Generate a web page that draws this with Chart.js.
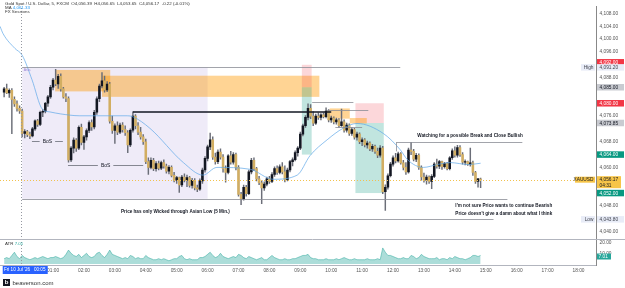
<!DOCTYPE html>
<html><head><meta charset="utf-8">
<script src="https://cdn.jsdelivr.net/npm/chart.js@4.4.0/dist/chart.umd.min.js"></script>
<style>html,body{margin:0;padding:0;background:#fff}#wrap{width:625px;height:288px}</style>
</head><body><div id="wrap"><canvas id="c" width="625" height="288"></canvas></div>
<script>
// ---- candle data (5-minute bars, minutes from 00:00) ----
const times = [-35,-30,-25,-20,-15,-10,-5,
0,5,10,15,20,25,30,35,40,45,50,55,
60,65,70,75,80,85,90,95,100,105,110,115,
120,125,130,135,140,145,150,155,160,165,170,175,
180,185,190,195,200,205,210,215,220,225,230,235,
240,245,250,255,260,265,270,275,280,285,290,295,
300,305,310,315,320,325,330,335,340,345,350,355,
360,365,370,375,380,385,390,395,400,405,410,415,
420,425,430,435,440,445,450,455,460,465,470,475,
480,485,490,495,500,505,510,515,520,525,530,535,
540,545,550,555,560,565,570,575,580,585,590,595,
600,605,610,615,620,625,630,635,640,645,650,655,
660,665,670,675,680,685,690,695,700,705,710,715,
720,725,730,735,740,745,750,755,760,765,770,775,
780,785,790,795,800,805,810,815,820,825,830,835,
840,845,850,855,860,865,870,875,880,885,890];
const opens = [4083.5,4084.5,4083.2,4084.0,4081.2,4079.8,4078.4,
4077.6,4070.6,4071.2,4070.2,4069.8,4072.0,4074.5,4073.4,4077.2,4077.5,4080.0,4082.0,
4085.0,4087.2,4086.0,4088.4,4084.5,4082.0,4081.5,4062.3,4066.0,4068.5,4066.0,4072.5,
4067.8,4069.5,4071.5,4074.0,4072.6,4077.2,4081.4,4085.4,4087.0,4084.2,4086.0,4074.4,
4071.5,4073.0,4071.0,4073.2,4071.8,4070.8,4067.0,4071.6,4076.0,4073.0,4071.0,4069.5,
4068.0,4061.8,4060.0,4062.2,4059.6,4061.2,4059.8,4061.5,4060.4,4058.8,4060.0,4057.5,
4056.0,4056.8,4054.5,4057.0,4056.0,4056.8,4054.4,4056.0,4053.6,4053.2,4055.8,4059.2,
4062.8,4066.4,4068.6,4063.2,4061.8,4064.8,4063.2,4059.6,4058.4,4063.6,4061.6,4064.0,
4060.0,4051.6,4050.2,4053.8,4051.8,4058.6,4062.2,4059.6,4056.4,4055.2,4053.6,4054.8,
4056.4,4055.6,4057.8,4059.6,4058.4,4060.2,4058.6,4056.2,4059.2,4061.8,4062.4,4064.6,
4066.0,4070.4,4073.0,4075.6,4078.4,4076.0,4073.8,4076.0,4075.6,4076.4,4075.8,4077.6,
4074.8,4075.4,4074.2,4074.8,4073.0,4074.2,4071.6,4073.2,4070.6,4071.8,4069.4,4070.4,
4068.0,4068.6,4067.0,4067.6,4065.8,4066.6,4065.0,4063.8,4066.0,4052.4,4053.8,4057.4,
4061.0,4063.0,4062.0,4064.2,4061.4,4060.0,4058.6,4065.4,4065.0,4062.6,4063.8,4060.0,
4057.0,4056.0,4057.0,4055.6,4057.2,4061.0,4060.4,4061.8,4060.2,4061.2,4059.6,4063.0,
4065.2,4063.8,4066.2,4064.0,4061.6,4061.8,4061.0,4061.4,4058.4,4055.6,4056.39];
const highs = [4085.0,4086.0,4084.5,4084.6,4082.0,4080.8,4079.2,
4078.2,4071.8,4071.6,4071.0,4072.5,4074.8,4075.0,4077.6,4078.0,4080.3,4082.5,4085.6,
4087.8,4090.6,4089.0,4089.2,4085.0,4083.0,4082.0,4066.5,4069.2,4069.0,4073.0,4073.5,
4070.0,4072.0,4074.5,4074.8,4077.8,4082.0,4086.0,4089.6,4088.5,4086.8,4086.5,4076.0,
4073.6,4074.2,4073.8,4074.0,4073.0,4071.5,4072.0,4077.3,4076.5,4074.0,4072.5,4070.2,
4068.8,4063.0,4063.0,4062.8,4061.8,4062.0,4062.0,4062.4,4061.0,4060.6,4060.5,4058.5,
4057.2,4057.0,4057.5,4058.0,4057.6,4057.2,4056.6,4056.5,4054.5,4056.4,4059.8,4063.4,
4067.0,4070.7,4069.5,4064.5,4065.5,4065.8,4064.0,4060.5,4064.0,4065.0,4064.6,4064.5,
4060.6,4052.2,4054.5,4054.4,4059.2,4062.8,4063.0,4060.0,4057.2,4056.0,4055.5,4057.0,
4057.2,4058.4,4060.2,4060.5,4060.8,4061.5,4060.5,4059.8,4062.2,4063.0,4065.2,4066.5,
4071.0,4073.5,4076.2,4079.8,4079.6,4077.4,4076.6,4077.0,4076.8,4077.0,4078.6,4078.0,
4076.0,4075.8,4075.4,4075.2,4078.2,4074.8,4073.8,4073.6,4072.4,4072.2,4071.0,4070.8,
4069.2,4069.0,4068.2,4068.0,4067.2,4067.0,4066.0,4066.8,4066.6,4054.6,4058.0,4061.6,
4063.6,4064.4,4064.8,4064.6,4062.2,4061.5,4066.0,4067.8,4065.6,4064.4,4064.2,4060.5,
4058.2,4057.6,4057.4,4057.8,4061.5,4062.6,4062.2,4062.0,4061.6,4061.6,4063.4,4065.8,
4066.4,4066.9,4066.8,4064.6,4062.4,4062.0,4066.0,4062.0,4058.8,4056.6,4056.65];
const lows = [4082.0,4083.0,4081.8,4070.5,4079.0,4077.5,4076.8,
4069.5,4069.2,4069.6,4069.0,4069.5,4071.5,4072.8,4073.0,4075.8,4077.0,4079.0,4081.5,
4084.2,4085.5,4084.6,4083.8,4081.6,4080.5,4061.6,4061.8,4064.5,4065.0,4065.5,4067.0,
4065.6,4068.5,4070.8,4071.5,4072.0,4076.5,4080.5,4084.8,4083.5,4083.6,4073.8,4070.6,
4067.5,4070.2,4070.5,4071.0,4070.0,4064.6,4066.5,4071.0,4072.0,4070.2,4068.8,4067.2,
4061.2,4057.8,4059.5,4059.0,4058.8,4059.2,4059.3,4059.8,4058.2,4058.0,4057.0,4055.5,
4055.0,4052.2,4054.0,4055.5,4054.0,4053.8,4053.5,4053.0,4052.4,4052.8,4055.0,4058.5,
4062.0,4065.5,4062.5,4061.0,4061.2,4062.6,4058.5,4055.4,4058.0,4061.0,4061.0,4059.2,
4051.0,4048.4,4049.8,4051.0,4051.5,4058.0,4059.0,4055.8,4054.6,4048.7,4052.8,4054.2,
4055.0,4055.2,4057.2,4057.8,4058.0,4058.0,4055.5,4055.8,4058.6,4060.5,4062.0,4063.5,
4065.5,4069.8,4072.5,4074.8,4075.2,4073.0,4073.4,4075.0,4074.8,4075.4,4075.4,4074.2,
4074.0,4073.6,4073.5,4072.5,4072.8,4071.0,4071.0,4070.0,4070.0,4068.8,4068.5,4067.4,
4066.8,4066.4,4066.0,4065.2,4065.0,4064.4,4063.0,4063.2,4051.8,4046.6,4053.2,4057.0,
4060.4,4061.4,4061.6,4061.0,4059.2,4057.8,4058.2,4064.0,4062.0,4061.8,4059.4,4056.0,
4055.4,4054.8,4055.0,4053.4,4056.8,4059.8,4059.6,4059.4,4059.8,4059.2,4059.2,4062.5,
4063.2,4063.2,4063.4,4061.0,4060.8,4060.6,4060.4,4057.5,4055.0,4053.8,4053.65];
const closes = [4084.5,4083.2,4084.0,4081.2,4079.8,4078.4,4077.6,
4070.6,4071.2,4070.2,4069.8,4072.0,4074.5,4073.4,4077.2,4077.5,4080.0,4082.0,4085.0,
4087.2,4086.0,4088.4,4084.5,4082.0,4081.5,4062.3,4066.0,4068.5,4066.0,4072.5,4067.8,
4069.5,4071.5,4074.0,4072.6,4077.2,4081.4,4085.4,4087.0,4084.2,4086.0,4074.4,4071.5,
4073.0,4071.0,4073.2,4071.8,4070.8,4067.0,4071.6,4076.0,4073.0,4071.0,4069.5,4068.0,
4061.8,4060.0,4062.2,4059.6,4061.2,4059.8,4061.5,4060.4,4058.8,4060.0,4057.5,4056.0,
4056.8,4054.5,4057.0,4056.0,4056.8,4054.4,4056.0,4053.6,4053.2,4055.8,4059.2,4062.8,
4066.4,4068.6,4063.2,4061.8,4064.8,4063.2,4059.6,4058.4,4063.6,4061.6,4064.0,4060.0,
4051.6,4050.2,4053.8,4051.8,4058.6,4062.2,4059.6,4056.4,4055.2,4053.6,4054.8,4056.4,
4055.6,4057.8,4059.6,4058.4,4060.2,4058.6,4056.2,4059.2,4061.8,4062.4,4064.6,4066.0,
4070.4,4073.0,4075.6,4078.4,4076.0,4073.8,4076.0,4075.6,4076.4,4075.8,4077.6,4074.8,
4075.4,4074.2,4074.8,4073.0,4074.2,4071.6,4073.2,4070.6,4071.8,4069.4,4070.4,4068.0,
4068.6,4067.0,4067.6,4065.8,4066.6,4065.0,4063.8,4066.0,4052.4,4053.8,4057.4,4061.0,
4063.0,4062.0,4064.2,4061.4,4060.0,4058.6,4065.4,4065.0,4062.6,4063.8,4060.0,4057.0,
4056.0,4057.0,4055.6,4057.2,4061.0,4060.4,4061.8,4060.2,4061.2,4059.6,4063.0,4065.2,
4063.8,4066.2,4064.0,4061.6,4061.8,4061.0,4061.4,4058.4,4055.6,4056.4,4056.17];
// ATR read per bar
const atrVals = [5,6,5,8,11,7,5,
8,6,5,4,5,6,5,6,7,6,5,6,
6,7,6,5,6,9,13,10,8,7,9,6,
8,10,7,6,7,10,11,8,6,9,13,9,
8,7,6,5,6,5,8,7,5,6,5,5,
8,6,5,4,4,5,4,5,4,3,4,5,
5,7,8,5,4,5,4,4,4,6,6,7,
9,11,8,6,7,10,7,6,5,6,7,6,
9,8,6,5,7,6,5,4,5,6,4,4,
6,8,6,5,4,4,5,4,4,5,5,6,
7,8,8,9,6,5,5,4,4,4,5,4,
4,4,5,4,5,6,5,4,4,5,4,4,
4,4,5,4,4,4,5,4,15,11,8,8,
7,6,5,5,6,5,5,8,7,5,6,9,
7,6,5,5,5,6,4,5,5,4,6,5,
7,6,5,5,4,5,6,8,8,7,8];
// Moving average, read at points
const maTimes = [-43,-37,-14,0,19,39,54,74,112,171,204,215,248,313,351,378,443,487,534,559,592,623,650,701,734,748,779,806,831,866,890];
const maVals  = [4104.0,4101.7,4097.1,4095.0,4087.4,4078.2,4077.3,4076.7,4076.1,4076.1,4076.1,4075.8,4072.2,4061.5,4057.6,4060.0,4059.4,4056.3,4057.6,4063.7,4068.6,4072.2,4073.7,4070.6,4065.5,4062.4,4060.0,4060.9,4061.5,4060.9,4061.3];
// axes
const priceTicks = [4040,4048,4060,4068,4076,4088,4096,4100,4104,4108];
const atrTicks = [10,20];
const hourTicks = [60,120,180,240,300,360,420,480,540,600,660,720,780,840,900,960,1020,1080];
const hourLabels = ['01:00','02:00','03:00','04:00','05:00','06:00','07:00','08:00','09:00','10:00','11:00','12:00','13:00','14:00','15:00','16:00','17:00','18:00'];
// drawings: zones (time from, time to, price top, price bottom, kind)
const zoneT0 = [0,64,155,543,543,647,647,597,636];
const zoneT1 = [360,171,577,562,562,702,702,636,669];
const zoneHi = [4091.2,4090.4,4088.6,4092.0,4085.0,4080.0,4073.85,4078.4,4075.4];
const zoneLo = [4050.2,4083.7,4082.0,4085.0,4064.0,4073.85,4052.0,4075.2,4073.7];
const zoneKind = ['asia','ob','ob','stop','target','stop','target','ob','ob'];
// horizontal lines (time from, time to, price, kind)
const lineT0 = [0,0,423,215,563,726,592,608];
const lineT1 = [734,942,915,600,643,971,672,660];
const lineP  = [4091.2,4050.2,4043.8,4077.3,4080.4,4067.8,4078.0,4072.6];
const lineKind = ['thin','thin','thin','thick','thin','thin','thin','thin'];
// BoS labels
const bosT0 = [19,89], bosT1 = [79,235], bosP = [4068.2,4060.6];
// notes (left time, price, text)
const noteT = [192,767,841,841];
const noteP = [4046.3,4070.0,4048.1,4045.7];
const noteText = ['Price has only Wicked through Asian Low (5 Min.)','Watching for a possible Break and Close Bullish',"I'm not sure Price wants to continue Bearish","Price doesn't give a damn about what I think"];
// price-axis markers
const markP = [4092.0,4085.0,4080.0,4073.85,4064.0,4052.0];
const markText = ['4,092.00','4,085.00','4,080.00','4,073.85','4,064.00','4,052.00'];
const markKind = ['red','gray','red','gray','green','green'];
const lastPrice = 4056.17, sessHigh = 4091.20, sessLow = 4043.80, maLast = 4061.33, atrLast = 7.01;

const FONT = '"Liberation Sans", Arial, sans-serif';
const ZONE_STYLE = {asia:'rgba(126,87,194,0.12)', ob:'rgba(255,152,0,0.42)', stop:'rgba(242,54,69,0.2)', target:'rgba(8,153,129,0.25)'};
const fmt = v => v.toLocaleString('en-US',{minimumFractionDigits:2,maximumFractionDigits:2});

const tv = {
  id:'tv',
  beforeDatasetsDraw(chart){
    const {ctx, chartArea:a, scales:{x,y}} = chart;
    ctx.save();
    ctx.beginPath(); ctx.rect(a.left, y.top, a.right-a.left, y.bottom-y.top); ctx.clip();
    for (let i=0;i<zoneKind.length;i++){
      const x0=x.getPixelForValue(zoneT0[i]), x1=x.getPixelForValue(zoneT1[i]);
      const y0=y.getPixelForValue(zoneHi[i]), y1=y.getPixelForValue(zoneLo[i]);
      ctx.fillStyle = ZONE_STYLE[zoneKind[i]];
      ctx.fillRect(x0,y0,x1-x0,y1-y0);
    }
    ctx.restore();
  },
  afterDatasetsDraw(chart){
    const {ctx, chartArea:a, scales:{x,y,yatr}} = chart;
    ctx.save();
    ctx.strokeStyle='#9598a1'; ctx.lineWidth=1; ctx.setLineDash([1,2]);
    const cx = Math.round(x.getPixelForValue(-3))+0.5;
    ctx.beginPath(); ctx.moveTo(cx, 8); ctx.lineTo(cx, a.bottom); ctx.stroke();
    ctx.strokeStyle='#f2c14e';
    const ly = Math.round(y.getPixelForValue(lastPrice))+0.5;
    ctx.beginPath(); ctx.moveTo(a.left, ly); ctx.lineTo(a.right, ly); ctx.stroke();
    ctx.setLineDash([]);
    for (let i=0;i<lineP.length;i++){
      const yy = y.getPixelForValue(lineP[i]);
      const thick = lineKind[i]==='thick';
      ctx.strokeStyle = thick ? '#131722' : '#8a8d96';
      ctx.lineWidth = thick ? 1.6 : 0.8;
      const yd = thick?yy:Math.round(yy)+0.5;
      ctx.beginPath(); ctx.moveTo(x.getPixelForValue(lineT0[i]), yd); ctx.lineTo(x.getPixelForValue(lineT1[i]), yd); ctx.stroke();
    }
    ctx.strokeStyle='#8a8d96'; ctx.lineWidth=0.8;
    const wx = Math.round(x.getPixelForValue(726))+0.5;
    ctx.beginPath(); ctx.moveTo(wx, y.getPixelForValue(4067.8)); ctx.lineTo(wx, y.getPixelForValue(4065.0)); ctx.stroke();
    ctx.font = '5px '+FONT; ctx.textBaseline='middle'; ctx.textAlign='center';
    for (let i=0;i<bosP.length;i++){
      const yy = Math.round(y.getPixelForValue(bosP[i]))+0.5;
      const x0=x.getPixelForValue(bosT0[i]), x1=x.getPixelForValue(bosT1[i]);
      const xm=(x0+x1)/2, w=ctx.measureText('BoS').width/2+3;
      ctx.strokeStyle='#6a6d78'; ctx.lineWidth=0.8;
      ctx.beginPath(); ctx.moveTo(x0,yy); ctx.lineTo(xm-w,yy); ctx.moveTo(xm+w,yy); ctx.lineTo(x1,yy); ctx.stroke();
      ctx.fillStyle='#131722'; ctx.fillText('BoS', xm, yy);
    }
    ctx.textAlign='left'; ctx.font='bold 4.6px '+FONT; ctx.fillStyle='#131722';
    for (let i=0;i<noteText.length;i++){
      ctx.fillText(noteText[i], x.getPixelForValue(noteT[i]), y.getPixelForValue(noteP[i]));
    }
    ctx.font='3.5px '+FONT; ctx.fillStyle='#9c88d8';
    ctx.fillText('Asia', x.getPixelForValue(3), y.getPixelForValue(sessHigh)+3);
    ctx.restore();
  },
  afterDraw(chart){
    const {ctx, chartArea:a, scales:{x,y,yatr}} = chart;
    ctx.save();
    ctx.strokeStyle='#b2b5be'; ctx.lineWidth=1;
    const sy = Math.round(y.bottom)+0.5;
    ctx.beginPath(); ctx.moveTo(0,sy); ctx.lineTo(625,sy); ctx.stroke();
    ctx.textBaseline='middle'; ctx.textAlign='left';
    ctx.font='4.4px '+FONT; ctx.fillStyle='#333';
    ctx.fillText('Gold Spot / U.S. Dollar, 5, FXCM  O4,056.39  H4,056.65  L4,053.65  C4,056.17  -0.22 (-0.01%)', 5, 4);
    ctx.fillText('MA', 5, 8);
    ctx.fillStyle='#2196f3'; ctx.fillText(fmt(maLast), 5+ctx.measureText('MA ').width, 8);
    ctx.fillStyle='#333'; ctx.fillText('FX Sessions', 5, 12);
    ctx.fillText('ATR', 5, y.bottom+5);
    ctx.fillStyle='#26a69a'; ctx.fillText(fmt(atrLast), 5+ctx.measureText('ATR ').width, y.bottom+5);
    const LX = a.right+1, LW = 27, LH = 6.5;
    function tag(py, txt, bg, fg){
      ctx.fillStyle=bg; ctx.fillRect(LX, py-LH/2, LW, LH);
      ctx.fillStyle=fg; ctx.font='4.8px '+FONT; ctx.textAlign='left'; ctx.fillText(txt, LX+2.5, py+0.3);
    }
    const STY = {red:['#f23645','#fff'], gray:['#c9cbd1','#131722'], green:['#089981','#fff']};
    for (let i=0;i<markP.length;i++){
      let py = y.getPixelForValue(markP[i]);
      if (i===0) py -= 2.5;
      tag(py, markText[i], STY[markKind[i]][0], STY[markKind[i]][1]);
    }
    for (const [lab,val] of [['High',sessHigh],['Low',sessLow]]){
      const py = y.getPixelForValue(val);
      tag(py, fmt(val), '#e8ecf7', '#434651');
      ctx.fillStyle='#e8ecf7'; ctx.fillRect(a.right-15, py-LH/2, 14, LH);
      ctx.fillStyle='#434651'; ctx.textAlign='right'; ctx.fillText(lab, a.right-2.5, py+0.3);
    }
    const lpy = y.getPixelForValue(lastPrice);
    ctx.fillStyle='#f7c548'; ctx.fillRect(LX, lpy-3.5, LW-3, 12);
    ctx.fillStyle='#131722'; ctx.textAlign='left'; ctx.font='4.8px '+FONT;
    ctx.fillText(fmt(lastPrice), LX+2.5, lpy);
    ctx.fillText('04:31', LX+2.5, lpy+5.5);
    ctx.fillStyle='#f7c548'; ctx.fillRect(a.right-21, lpy-3, 20, 6);
    ctx.fillStyle='#131722'; ctx.textAlign='right'; ctx.fillText('XAUUSD', a.right-2.5, lpy+0.3);
    const apy = yatr.getPixelForValue(atrLast);
    ctx.fillStyle='#26a69a'; ctx.fillRect(LX, apy-3, 14, 6);
    ctx.fillStyle='#fff'; ctx.textAlign='left'; ctx.fillText(fmt(atrLast), LX+1.5, apy+0.3);
    const bx = x.getPixelForValue(5);
    ctx.fillStyle='#2962ff'; ctx.fillRect(bx-22, a.bottom+1, 45, 8);
    ctx.fillStyle='#fff'; ctx.textAlign='center'; ctx.font='4.6px '+FONT;
    ctx.fillText("Fri 10 Jul '26   00:05", bx, a.bottom+5);
    ctx.fillStyle='#131722'; ctx.fillRect(3,279,7,7);
    ctx.fillStyle='#fff'; ctx.font='bold 6px '+FONT; ctx.textAlign='center'; ctx.fillText('b', 6.5, 282.8);
    ctx.fillStyle='#333'; ctx.font='6px '+FONT; ctx.textAlign='left'; ctx.fillText('beaverson.com', 12.5, 283);
    ctx.restore();
  }
};

const wickData = times.map((t,i)=>({x:t, y:[lows[i], highs[i]]}));
const bodyData = times.map((t,i)=>{const lo=Math.min(opens[i],closes[i]), hi=Math.max(opens[i],closes[i]); return {x:t, y:[lo, hi-lo<0.15?lo+0.15:hi]};});
const bodyColors = times.map((t,i)=> closes[i]>=opens[i] ? '#131722' : '#d2ae62');

new Chart(document.getElementById('c'), {
  type:'bar',
  data:{datasets:[
    {type:'bar', data:wickData, backgroundColor:'#6b6e78', barThickness:0.8, grouped:false, order:4, yAxisID:'y'},
    {type:'bar', data:bodyData, backgroundColor:bodyColors, barThickness:1.9, grouped:false, order:3, yAxisID:'y'},
    {type:'line', data:maTimes.map((t,i)=>({x:t,y:maVals[i]})), borderColor:'#5fa8e8', borderWidth:0.7, pointRadius:0, cubicInterpolationMode:'monotone', order:1, yAxisID:'y'},
    {type:'line', data:times.map((t,i)=>({x:t,y:atrVals[i]})), borderColor:'rgba(38,166,154,0.7)', backgroundColor:'rgba(38,166,154,0.38)', borderWidth:0.7, pointRadius:0, fill:'origin', order:2, yAxisID:'yatr'}
  ]},
  options:{
    animation:false, responsive:false, maintainAspectRatio:false, devicePixelRatio:1,
    plugins:{legend:{display:false}, tooltip:{enabled:false}},
    layout:{padding:{left:0,right:0,top:0,bottom:12}},
    scales:{
      x:{type:'linear', min:-43, max:1114, offset:false,
         grid:{display:false, drawTicks:false}, border:{display:true, color:'#b2b5be'},
         afterBuildTicks:s=>{s.ticks = hourTicks.map(v=>({value:v}));},
         afterFit:s=>{s.height=11;},
         ticks:{autoSkip:false, maxRotation:0, padding:2.5, color:'#555', font:{size:4.8, family:FONT},
                callback:(v)=>{const k=hourTicks.indexOf(v); return k>=0?hourLabels[k]:'';}}},
      y:{type:'linear', position:'right', stack:'pane', stackWeight:238, weight:1, min:4037.78, max:4110.22,
         grid:{display:false, drawTicks:false}, border:{display:true, color:'#888'},
         afterBuildTicks:s=>{s.ticks = priceTicks.map(v=>({value:v}));},
         afterFit:s=>{s.width=29;},
         ticks:{padding:3.5, color:'#555', font:{size:4.8, family:FONT}, callback:v=>fmt(v)}},
      yatr:{type:'linear', position:'right', stack:'pane', stackWeight:27, weight:2, min:-0.91, max:23.64,
         grid:{display:false, drawTicks:false}, border:{display:true, color:'#888'},
         afterBuildTicks:s=>{s.ticks = atrTicks.map(v=>({value:v}));},
         afterFit:s=>{s.width=29;},
         ticks:{padding:3.5, color:'#555', font:{size:4.8, family:FONT}, callback:v=>fmt(v)}}
    }
  },
  plugins:[tv]
});
</script></body></html>
